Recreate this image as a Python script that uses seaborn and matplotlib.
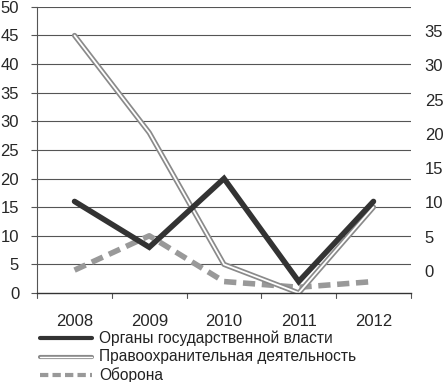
import matplotlib
matplotlib.use('Agg')
import matplotlib.pyplot as plt
import seaborn as sns
import pandas as pd

years = ['2008', '2009', '2010', '2011', '2012']
organy = [16, 8, 20, 2, 16]
pravo = [45, 28, 5, 0, 15]
oborona = [4, 10, 2, 1, 2]
labels = ['Органы государственной власти', 'Правоохранительная деятельность', 'Оборона']

sns.set_style('white')
plt.rcParams['font.family'] = ['Liberation Sans', 'DejaVu Sans']

df = pd.DataFrame({'x': range(len(years)), 'organy': organy, 'pravo': pravo, 'oborona': oborona})

fig = plt.figure(figsize=(4.48, 3.82), dpi=100)
ax = fig.add_axes([0.083, 0.233, 0.834, 0.749])

for v in range(5, 51, 5):
    ax.axhline(v, color='#555555', lw=0.8, zorder=0)

sns.lineplot(data=df, x='x', y='organy', ax=ax, color='#333333', lw=4, zorder=3,
             solid_capstyle='round', solid_joinstyle='miter')
sns.lineplot(data=df, x='x', y='pravo', ax=ax, color='#8a8a8a', lw=3.8, zorder=2)
sns.lineplot(data=df, x='x', y='pravo', ax=ax, color='white', lw=1.3, zorder=2)
sns.lineplot(data=df, x='x', y='oborona', ax=ax, color='#999999', lw=4, zorder=1,
             linestyle=(0, (2.2, 1.2)))

ax.set_xlim(-0.5, 4.5)
ax.set_ylim(0, 50)
ax.set_yticks(range(0, 51, 5))
ax.set_xticks(range(len(years)))
ax.set_xticklabels(years)
ax.set_xlabel('')
ax.set_ylabel('')
ax.tick_params(axis='x', length=0, pad=15, labelsize=12)
ax.tick_params(axis='y', left=True, length=4, width=0.8, color='#555555', pad=9, labelsize=12)
for b in [-0.5, 0.5, 1.5, 2.5, 3.5, 4.5]:
    ax.plot([b, b], [0, -0.8], color='#555555', lw=0.8, clip_on=False)
for s in ['top', 'right']:
    ax.spines[s].set_visible(False)
ax.spines['left'].set_color('#555555')
ax.spines['bottom'].set_color('#333333')
ax.spines['left'].set_linewidth(0.8)
ax.spines['bottom'].set_linewidth(1.0)

ax2 = ax.twinx()
ax2.set_ylim(-3.2, 38.5)
ax2.set_yticks(range(0, 36, 5))
ax2.tick_params(axis='y', length=0, pad=10, labelsize=12)
for s in ax2.spines.values():
    s.set_visible(False)

# legend drawn below the axes
lx0, lx1, tx = 0.09, 0.205, 0.222
ys = [0.115, 0.066, 0.018]
fig.add_artist(plt.Line2D([lx0, lx1], [ys[0], ys[0]], color='#333333', lw=3, transform=fig.transFigure))
fig.add_artist(plt.Line2D([lx0, lx1], [ys[1], ys[1]], color='#8a8a8a', lw=3, transform=fig.transFigure))
fig.add_artist(plt.Line2D([lx0, lx1], [ys[1], ys[1]], color='white', lw=1, transform=fig.transFigure))
fig.add_artist(plt.Line2D([lx0, lx1], [ys[2], ys[2]], color='#999999', lw=3,
                          linestyle=(0, (2, 1)), transform=fig.transFigure))
for y, t in zip(ys, labels):
    fig.text(tx, y, t, fontsize=11.2, va='center', ha='left', color='#222222')

fig.savefig('out.png', dpi=100)
